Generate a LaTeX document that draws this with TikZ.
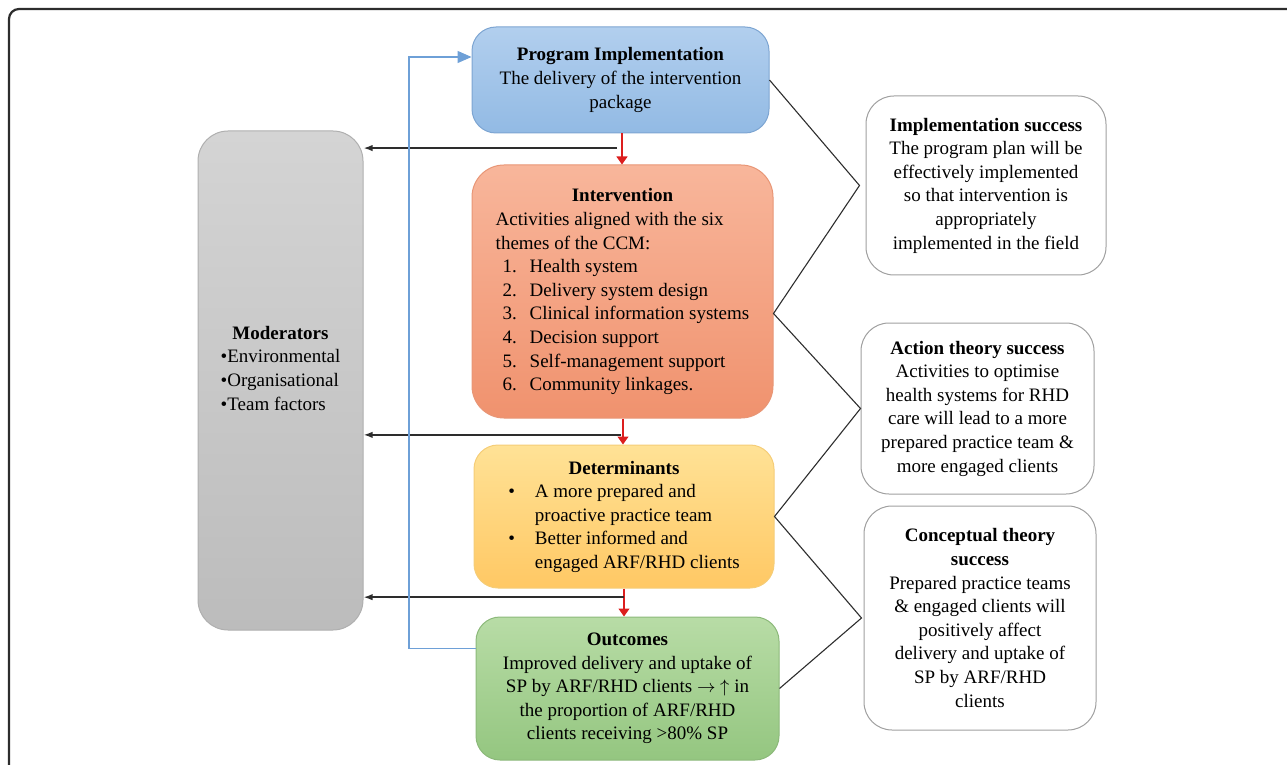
\documentclass[tikz,border=0pt]{standalone}
\usepackage{fontspec}
\setmainfont{Liberation Serif}
\usetikzlibrary{arrows.meta, calc}
\definecolor{ink}{RGB}{45,45,45}
\definecolor{pitop}{RGB}{178,207,238}
\definecolor{pibot}{RGB}{146,186,228}
\definecolor{piedge}{RGB}{125,165,210}
\definecolor{intop}{RGB}{248,182,155}
\definecolor{inbot}{RGB}{240,146,110}
\definecolor{inedge}{RGB}{232,150,118}
\definecolor{detop}{RGB}{255,226,150}
\definecolor{debot}{RGB}{255,200,100}
\definecolor{deedge}{RGB}{245,205,120}
\definecolor{outop}{RGB}{184,220,166}
\definecolor{oubot}{RGB}{148,198,128}
\definecolor{ouedge}{RGB}{140,185,122}
\definecolor{motop}{RGB}{212,212,212}
\definecolor{mobot}{RGB}{188,188,188}
\definecolor{moedge}{RGB}{175,175,175}
\definecolor{goaledge}{RGB}{160,160,160}
\definecolor{arrred}{RGB}{220,30,30}
\definecolor{loopblue}{RGB}{110,160,215}

\begin{document}
\begin{tikzpicture}[
    x=0.5pt, y=-0.5pt,
    font=\fontsize{9.5}{11.8}\selectfont,
    stage/.style={rectangle,rounded corners=12pt,line width=0.5pt,
                  inner sep=2pt,align=center,text=black},
    pibox/.style={stage,draw=piedge,top color=pitop,bottom color=pibot},
    inbox/.style={stage,draw=inedge,top color=intop,bottom color=inbot,rounded corners=16pt},
    debox/.style={stage,draw=deedge,top color=detop,bottom color=debot},
    oubox/.style={stage,draw=ouedge,top color=outop,bottom color=oubot},
    mobox/.style={stage,draw=moedge,top color=motop,bottom color=mobot,rounded corners=15pt},
    goal/.style={stage,draw=goaledge,fill=white,rounded corners=14pt},
    redarr/.style={-{Triangle[length=4pt,width=5.5pt]},draw=arrred,line width=0.6pt},
    modarr/.style={-{Latex[length=4.5pt,width=3.2pt]},draw=ink,line width=0.8pt},
    backarr/.style={-{Triangle[length=7pt,width=6pt]},draw=loopblue,line width=0.7pt},
    zig/.style={draw=ink,line width=0.55pt},
    frame/.style={draw=ink,line width=1.1pt,rounded corners=5pt}]

  \useasboundingbox (0,0) rectangle (1287,765);
  \draw[frame] (9,780) -- (9,9) -- (1300,9);

  % middle column
  \node[pibox,minimum width=148.5pt,minimum height=53pt] (pi) at (620.5,80)
       {\textbf{Program Implementation}\\The delivery of the intervention\\package};
  \node[inbox,minimum width=150.5pt,minimum height=126.5pt] (interv) at (622.5,291.5)
       {\begin{tabular}{@{}l@{}}
        \multicolumn{1}{@{}c@{}}{\textbf{Intervention}}\\
        Activities aligned with the six\\
        themes of the CCM:\\
        \makebox[17pt][l]{\hspace{3.5pt}1.}Health system\\
        \makebox[17pt][l]{\hspace{3.5pt}2.}Delivery system design\\
        \makebox[17pt][l]{\hspace{3.5pt}3.}Clinical information systems\\
        \makebox[17pt][l]{\hspace{3.5pt}4.}Decision support\\
        \makebox[17pt][l]{\hspace{3.5pt}5.}Self-management support\\
        \makebox[17pt][l]{\hspace{3.5pt}6.}Community linkages.
        \end{tabular}};
  \node[debox,minimum width=150pt,minimum height=71.5pt] (determ) at (624,516.5)
       {\begin{tabular}{@{}l@{\hspace{10pt}}l@{}}
        \multicolumn{2}{@{}c@{}}{\textbf{Determinants}}\\
        \textbullet & A more prepared and\\
                    & proactive practice team\\
        \textbullet & Better informed and\\
                    & engaged ARF/RHD clients
        \end{tabular}};
  \node[oubox,minimum width=151.5pt,minimum height=71.5pt] (outc) at (627.5,688.5)
       {\textbf{Outcomes}\\Improved delivery and uptake of\\
        SP by ARF/RHD clients $\rightarrow$ $\uparrow$ in\\
        the proportion of ARF/RHD\\clients receiving >80\% SP};

  % moderators
  \node[mobox,minimum width=82.5pt,minimum height=249.5pt] (moder) at (280.5,380.5)
       {\begin{tabular}{@{}l@{}}
        \multicolumn{1}{@{}c@{}}{\textbf{Moderators}}\\
        \textbullet Environmental\\
        \textbullet Organisational\\
        \textbullet Team factors\rule[-14pt]{0pt}{0pt}
        \end{tabular}};

  % success criteria
  \node[goal,minimum width=120pt,minimum height=89.5pt] (impl) at (986,185.5)
       {\textbf{Implementation success}\\The program plan will be\\
        effectively implemented\\so that intervention is\\
        appropriately\\implemented in the field};
  \node[goal,minimum width=116.5pt,minimum height=85.5pt] (action) at (977.5,408.5)
       {\textbf{Action theory success}\\Activities to optimise\\
        health systems for RHD\\care will lead to a more\\
        prepared practice team \&\\more engaged clients};
  \node[goal,minimum width=116pt,minimum height=112pt] (concept) at (980,618)
       {\textbf{Conceptual theory}\\\textbf{success}\\Prepared practice teams\\
        \& engaged clients will\\positively affect\\
        delivery and uptake of\\SP by ARF/RHD\\clients};

  % flow down the middle
  \draw[redarr] (pi.south -| 622,0) -- (interv.north -| 622,0)
        coordinate[pos=0.47] (m1);
  \draw[redarr] (interv.south -| 623,0) -- (determ.north -| 623,0)
        coordinate[pos=0.63] (m2);
  \draw[redarr] (determ.south -| 624,0) -- (outc.north -| 624,0)
        coordinate[pos=0.31] (m3);

  % influence of moderators
  \draw[modarr] ([xshift=-2.5pt]m1) -- (moder.east |- m1);
  \draw[modarr] ([xshift=-1pt]m2) -- (moder.east |- m2);
  \draw[modarr] (m3) -- (moder.east |- m3);

  % feedback loop
  \draw[backarr] ($(outc.west)+(0,-40)$) -| (409,57) -- ($(pi.west)+(0,-23)$);

  % evaluation links
  \draw[zig] (pi.east) -- ([xshift=-3pt]impl.west) -- ($(interv.east)+(0,22)$)
        -- (action.west) -- (determ.east) -- ([xshift=-1pt]concept.west) -- (outc.east);
\end{tikzpicture}
\end{document}
